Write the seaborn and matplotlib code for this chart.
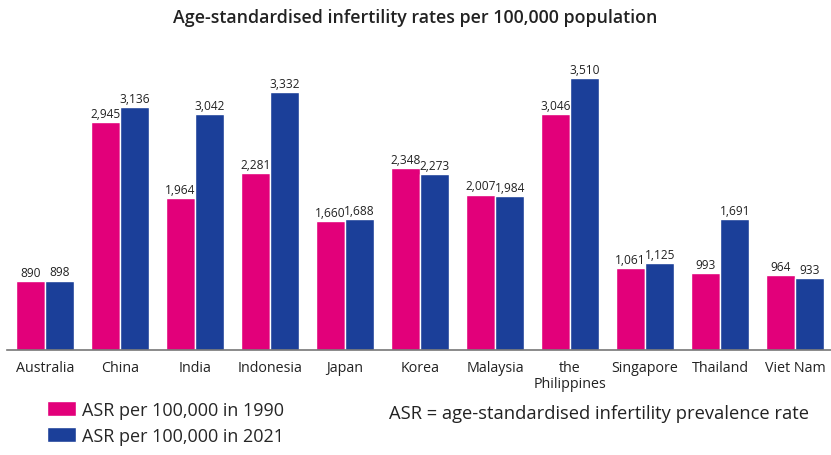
import pandas as pd
import seaborn as sns
import matplotlib.pyplot as plt

countries = ["Australia", "China", "India", "Indonesia", "Japan", "Korea", "Malaysia",
             "the\nPhilippines", "Singapore", "Thailand", "Viet Nam"]
asr_1990 = [890, 2945, 1964, 2281, 1660, 2348, 2007, 3046, 1061, 993, 964]
asr_2021 = [898, 3136, 3042, 3332, 1688, 2273, 1984, 3510, 1125, 1691, 933]
series = ["ASR per 100,000 in 1990", "ASR per 100,000 in 2021"]
palette = ["#E2007A", "#1B3F99"]

df = pd.DataFrame({"Country": countries * 2,
                   "Series": [series[0]] * len(countries) + [series[1]] * len(countries),
                   "Value": asr_1990 + asr_2021})

sns.set_style("white")
plt.rcParams["font.family"] = ["Open Sans", "DejaVu Sans"]

fig = plt.figure(figsize=(8.31, 4.56), dpi=100)
ax = fig.add_axes([0.009, 0.23, 0.993, 0.68])

sns.barplot(data=df, x="Country", y="Value", hue="Series", palette=palette, saturation=1,
            width=0.78, edgecolor="white", linewidth=1, ax=ax)

for container in ax.containers:
    ax.bar_label(container, labels=[f"{v:,.0f}" for v in container.datavalues],
                 padding=1.5, fontsize=8.6, color="#222222")

ax.set_ylim(0, 4000)
ax.set_xlim(-0.5, 10.5)
ax.set_xlabel("")
ax.set_ylabel("")
ax.set_yticks([])
ax.tick_params(axis="x", length=0, labelsize=10.3, pad=7, colors="#222222")
for lbl in ax.get_xticklabels():
    lbl.set_linespacing(1.1)
sns.despine(ax=ax, left=True)
ax.spines["bottom"].set_color("#777777")
ax.spines["bottom"].set_linewidth(1.2)

ax.legend(loc="upper left", bbox_to_anchor=(0.039, -0.14), frameon=False, fontsize=13,
          handlelength=1.6, handleheight=0.95, handletextpad=0.35, labelspacing=0.45,
          borderaxespad=0)

fig.text(0.468, 0.093, "ASR = age-standardised infertility prevalence rate", fontsize=13.2,
         color="#222222", va="center")
fig.text(0.5, 0.96, "Age-standardised infertility rates per 100,000 population", ha="center",
         va="center", fontsize=12.8, fontweight="semibold", color="#222222")

fig.savefig("out.png", dpi=100)
